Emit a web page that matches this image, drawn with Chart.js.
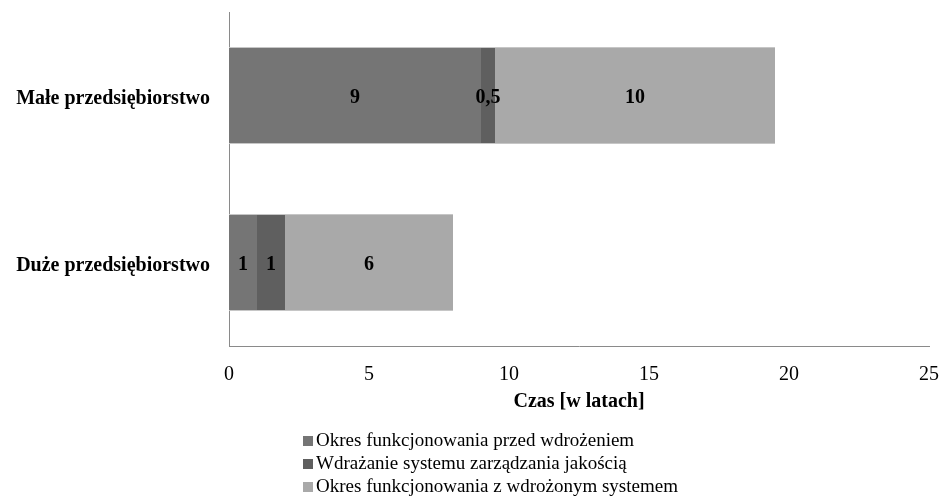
<!DOCTYPE html>
<html>
<head>
<meta charset="utf-8">
<script src="https://cdn.jsdelivr.net/npm/chart.js@4.4.1/dist/chart.umd.min.js"></script>
<style>
  html, body { margin: 0; padding: 0; background: #fff; }
  #wrap { width: 944px; height: 502px; }
</style>
</head>
<body>
<div id="wrap"><canvas id="c" width="944" height="502"></canvas></div>
<script>
// Company types (y categories)
const categories = ['Małe przedsiębiorstwo', 'Duże przedsiębiorstwo'];

// Phase durations in years
const seriesNames = [
  'Okres funkcjonowania przed wdrożeniem',
  'Wdrażanie systemu zarządzania jakością',
  'Okres funkcjonowania z wdrożonym systemem'
];
const beforeImpl = [9, 1];
const implementing = [0.5, 1];
const afterImpl = [10, 6];

const seriesColors = ['#757575', '#5f5f5f', '#a9a9a9'];

const xTicks = [0, 5, 10, 15, 20, 25];
const xTitle = 'Czas [w latach]';

const SERIF = '"Liberation Serif", "Times New Roman", serif';

// Segment value labels, centred in each bar piece (decimal comma)
const segmentLabels = {
  id: 'segmentLabels',
  afterDatasetsDraw(chart) {
    const ctx = chart.ctx;
    ctx.save();
    ctx.font = 'bold 20px ' + SERIF;
    ctx.fillStyle = '#000';
    ctx.textAlign = 'center';
    ctx.textBaseline = 'middle';
    chart.data.datasets.forEach((ds, i) => {
      chart.getDatasetMeta(i).data.forEach((bar, j) => {
        const v = ds.data[j];
        const p = bar.getProps(['x', 'y', 'base'], true);
        const cx = (p.x + p.base) / 2;
        ctx.fillText(String(v).replace('.', ','), cx, p.y + 2);
      });
    });
    ctx.restore();
  }
};

// Vertical legend list under the axis title
const listLegend = {
  id: 'listLegend',
  afterDraw(chart) {
    const ctx = chart.ctx;
    ctx.save();
    ctx.font = '19px ' + SERIF;
    ctx.textBaseline = 'middle';
    ctx.textAlign = 'left';
    const x0 = 303, y0 = 441, step = 23;
    chart.data.datasets.forEach((ds, i) => {
      const y = y0 + i * step;
      ctx.fillStyle = ds.backgroundColor;
      ctx.fillRect(x0, y - 5, 10, 10);
      ctx.fillStyle = '#000';
      ctx.fillText(ds.label, x0 + 13, y);
    });
    ctx.restore();
  }
};

const datasets = [beforeImpl, implementing, afterImpl].map((d, i) => ({
  label: seriesNames[i],
  data: d,
  backgroundColor: seriesColors[i],
  borderColor: '#c6c6c6',
  borderWidth: { top: 1, bottom: 1, left: 0, right: 0 },
  borderSkipped: false,
  categoryPercentage: 1,
  barPercentage: 0.58
}));

new Chart(document.getElementById('c'), {
  type: 'bar',
  data: { labels: categories, datasets },
  options: {
    indexAxis: 'y',
    responsive: false,
    animation: false,
    layout: { padding: { top: 12, right: 15, bottom: 88, left: 0 } },
    plugins: {
      legend: { display: false },
      tooltip: { enabled: false }
    },
    scales: {
      x: {
        stacked: true,
        min: 0,
        max: 25,
        afterBuildTicks(scale) { scale.ticks = xTicks.map(v => ({ value: v })); },
        grid: { display: false, drawTicks: false },
        border: { display: true, color: '#8a8a8a', width: 1 },
        ticks: {
          padding: 17,
          color: '#000',
          font: { family: SERIF, size: 20 }
        },
        title: {
          display: true,
          text: xTitle,
          color: '#000',
          font: { family: SERIF, size: 20, weight: 'bold' },
          padding: { top: 0, bottom: 0 }
        },
        afterFit(scale) {
          scale.height = 68;
          scale.paddingLeft = 0;
          scale.paddingRight = 0;
        }
      },
      y: {
        stacked: true,
        grid: { display: false, drawTicks: false },
        border: { display: true, color: '#8a8a8a', width: 1 },
        ticks: {
          padding: 19,
          labelOffset: 3,
          color: '#000',
          font: { family: SERIF, size: 20, weight: 'bold' }
        },
        afterFit(scale) {
          scale.width = 229;
          scale.paddingTop = 0;
          scale.paddingBottom = 0;
        }
      }
    }
  },
  plugins: [segmentLabels, listLegend]
});
</script>
</body>
</html>
